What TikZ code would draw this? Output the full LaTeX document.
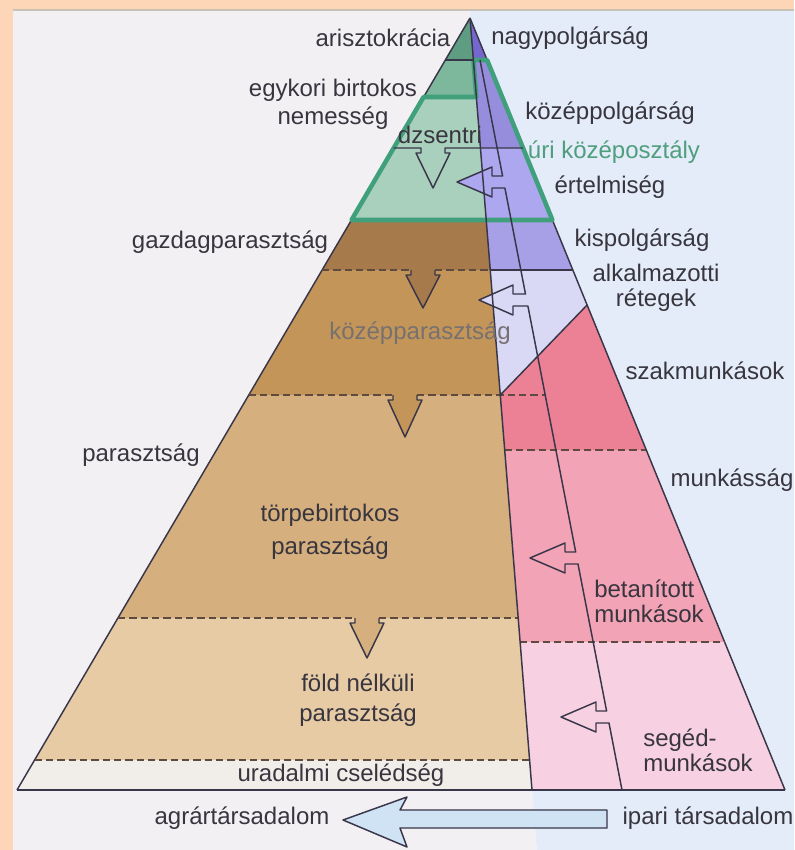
\documentclass[tikz,border=0pt]{standalone}
\usepackage{fontspec}
\setmainfont{Liberation Sans}

\definecolor{peach}{HTML}{FDD6B7}
\definecolor{bgl}{HTML}{F3F0F4}
\definecolor{bgr}{HTML}{E3ECF8}
\definecolor{topln}{HTML}{C9C2B4}
\definecolor{aris}{HTML}{5F9D82}
\definecolor{nemes}{HTML}{7EB89C}
\definecolor{dzsen}{HTML}{A9D0BC}
\definecolor{gazd}{HTML}{A77A4C}
\definecolor{kozp}{HTML}{C49559}
\definecolor{torpe}{HTML}{D5AF7D}
\definecolor{fold}{HTML}{E6CBA5}
\definecolor{csel}{HTML}{F1EEEA}
\definecolor{nagyp}{HTML}{7667CE}
\definecolor{kozpp}{HTML}{978DDD}
\definecolor{ertel}{HTML}{ADA7EF}
\definecolor{kisp}{HTML}{A7A0E7}
\definecolor{alk}{HTML}{D9D9F6}
\definecolor{szak}{HTML}{EC8195}
\definecolor{betan}{HTML}{F3A3B6}
\definecolor{seged}{HTML}{F7D1E2}
\definecolor{grn}{HTML}{41A07C}
\definecolor{ln}{HTML}{383648}
\definecolor{dsh}{HTML}{5E4A3E}
\definecolor{txt}{HTML}{38353F}
\definecolor{gtxt}{HTML}{4F9E7D}
\definecolor{kptxt}{HTML}{76716F}
\definecolor{arrw}{HTML}{CFE3F5}

\begin{document}
\begin{tikzpicture}[x=0.75pt,y=-0.75pt,
  lbl/.style={text=txt,font=\fontsize{18}{21}\selectfont,inner sep=0pt},
  solidln/.style={draw=ln,line width=1.1pt,line join=round},
  cut/.style={draw=dsh,line width=1.1pt,dash pattern=on 5.5pt off 3pt},
  rim/.style={draw=grn,line width=3.4pt,line join=round}]
  \useasboundingbox (0,0) rectangle (794,850);

  \fill[bgl] (13,9) -- (469.3,9) -- (536.8,850) -- (13,850) -- cycle;
  \fill[bgr] (469.3,9) -- (794,9) -- (794,850) -- (536.8,850) -- cycle;
  \fill[peach] (0,0) rectangle (794,8.5);
  \fill[peach] (0,0) rectangle (13,850);
  \draw[topln,line width=1.2pt] (13,10) -- (794,10);

  \fill[aris] (470,18) -- (473.4,60) -- (445.4,60) -- cycle;
  \fill[nemes] (445.4,60) -- (473.4,60) -- (476.3,97) -- (423.6,97) -- cycle;
  \fill[dzsen] (423.6,97) -- (476.3,97) -- (486.2,220) -- (351.5,220) -- cycle;
  \fill[gazd] (351.5,220) -- (486.2,220) -- (490.2,270) -- (322.1,270) -- cycle;
  \fill[kozp] (322.1,270) -- (490.2,270) -- (500.3,395) -- (248.8,395) -- cycle;
  \fill[torpe] (248.8,395) -- (500.3,395) -- (518.2,618) -- (117.9,618) -- cycle;
  \fill[fold] (117.9,618) -- (518.2,618) -- (529.6,760) -- (34.6,760) -- cycle;
  \fill[csel] (34.6,760) -- (529.6,760) -- (532,790) -- (17,790) -- cycle;

  \fill[nagyp] (470,18) -- (487.1,60) -- (473.4,60) -- cycle;
  \fill[kozpp] (473.4,60) -- (487.1,60) -- (523,148) -- (480.4,148) -- cycle;
  \fill[ertel] (480.4,148) -- (523,148) -- (552.4,220) -- (486.2,220) -- cycle;
  \fill[kisp] (486.2,220) -- (552.4,220) -- (572.8,270) -- (490.2,270) -- cycle;
  \fill[alk] (490.2,270) -- (572.8,270) -- (587.1,305) -- (500.3,395) -- cycle;
  \fill[szak] (500.3,395) -- (587.1,305) -- (646.3,450) -- (504.7,450) -- cycle;
  \fill[betan] (504.7,450) -- (646.3,450) -- (724.6,642) -- (520.1,642) -- cycle;
  \fill[seged] (520.1,642) -- (724.6,642) -- (785,790) -- (532,790) -- cycle;

  \draw[solidln] (470,18) -- (17,790);
  \draw[solidln] (470,18) -- (785,790);
  \draw[rim] (473.4,60) -- (487.1,60) -- (552.4,220) -- (351.5,220) -- (423.6,97) -- (476.3,97) -- cycle;

  \draw[solidln] (445.4,60) -- (473.4,60);
  \draw[solidln,fill=dzsen] (393.7,148) -- (421,148) -- (421,153) -- (416,153) -- (433,188) -- (450,153) -- (445,153) -- (445,148) -- (523,148);

  \draw[cut] (322.1,270) -- (411,270);
  \draw[solidln,fill=gazd] (411,270) -- (411,275) -- (406,275) -- (423,308) -- (440,275) -- (435,275) -- (435,270);
  \draw[cut] (435,270) -- (490.2,270);
  \draw[solidln] (490.2,270) -- (572.8,270);

  \draw[cut] (248.8,395) -- (393,395);
  \draw[solidln,fill=kozp] (393,395) -- (393,400) -- (388,400) -- (405,437) -- (422,400) -- (417,400) -- (417,395);
  \draw[cut] (417,395) -- (545.2,395);

  \draw[cut] (117.9,618) -- (355,618);
  \draw[solidln,fill=torpe] (355,618) -- (355,623) -- (350,623) -- (367,658) -- (384,623) -- (379,623) -- (379,618);
  \draw[cut] (379,618) -- (518.2,618);

  \draw[cut] (34.6,760) -- (529.6,760);
  \draw[cut] (504.7,450) -- (646.3,450);
  \draw[cut] (520.1,642) -- (724.6,642);
  \draw[solidln] (587.1,305) -- (500.3,395);

  \fill[ertel] (502.6,176) -- (492,176) -- (492,167) -- (457,182) -- (492,197) -- (492,188) -- (504.9,188) -- cycle;
  \fill[alk] (525.5,294) -- (513,294) -- (513,285) -- (479,300) -- (513,315) -- (513,306) -- (527.9,306) -- cycle;
  \fill[betan] (575.7,552) -- (565,552) -- (565,543) -- (530,558) -- (565,573) -- (565,564) -- (578,564) -- cycle;
  \fill[seged] (606.6,711) -- (596,711) -- (596,702) -- (561,717) -- (596,732) -- (596,723) -- (609,723) -- cycle;

  \draw[solidln] (470,18) -- (532,790);
  \draw[solidln] (480,60) -- (502.6,176) -- (492,176) -- (492,167) -- (457,182) -- (492,197) -- (492,188) -- (504.9,188)
    -- (525.5,294) -- (513,294) -- (513,285) -- (479,300) -- (513,315) -- (513,306) -- (527.9,306)
    -- (575.7,552) -- (565,552) -- (565,543) -- (530,558) -- (565,573) -- (565,564) -- (578,564)
    -- (606.6,711) -- (596,711) -- (596,702) -- (561,717) -- (596,732) -- (596,723) -- (609,723) -- (622,790);
  \draw[ln,line width=1.6pt] (17,790) -- (785,790);

  \draw[solidln,fill=arrw] (343,820) -- (407,797) -- (400,810) -- (607,810) -- (607,828) -- (400,828) -- (407,847) -- cycle;

  \node[lbl] (aristo) at (383,38) { arisztokrácia };
  \node[lbl] (nagyp) at (570,38) { nagypolgárság };
  \node[lbl,align=center] (nemes) at (333,104) { egykori birtokos\\ nemesség };
  \node[lbl] (dzsentri) at (440,135) { dzsentri };
  \node[lbl] (kozpp) at (610,113) { középpolgárság };
  \node[lbl,text=gtxt] (uri) at (614,152) { úri középosztály };
  \node[lbl] (ertel) at (610,187) { értelmiség };
  \node[lbl] (gazd) at (230,242) { gazdagparasztság };
  \node[lbl] (kisp) at (642,240) { kispolgárság };
  \node[lbl,align=center] (alk) at (656,288) { alkalmazotti\\[-2.25pt] rétegek };
  \node[lbl,text=kptxt] (kozp) at (420,333) { középparasztság };
  \node[lbl] (szak) at (705,371) { szakmunkások };
  \node[lbl] (paraszt) at (141,455) { parasztság };
  \node[lbl] (munkas) at (732,480) { munkásság };
  \node[lbl,align=center] (torpe) at (330,532) { törpebirtokos\\[3.75pt] parasztság };
  \node[lbl,align=left,anchor=west] (betan) at (594,601) { betanított\\[-2.25pt] munkások };
  \node[lbl,align=center] (fold) at (358,700) { föld nélküli\\[1.5pt] parasztság };
  \node[lbl,align=left,anchor=west] (seged) at (643,750) { segéd-\\[-2.25pt] munkások };
  \node[lbl] (csel) at (341,775) { uradalmi cselédség };
  \node[lbl] (agrar) at (242,818) { agrártársadalom };
  \node[lbl] (ipari) at (708,818) { ipari társadalom };
\end{tikzpicture}
\end{document}
